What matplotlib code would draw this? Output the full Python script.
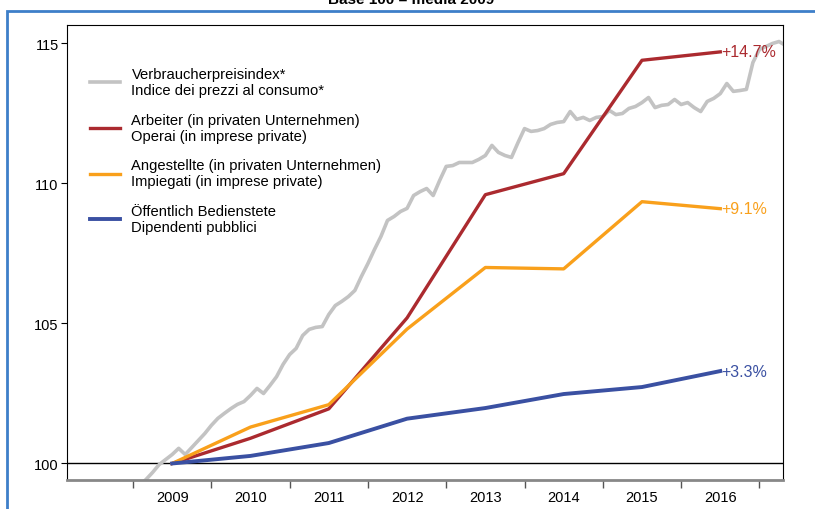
import numpy as np
import matplotlib
matplotlib.use("Agg")
from matplotlib import pyplot as plt
from matplotlib.patches import Rectangle

plt.rcParams['font.family'] = ['Liberation Sans', 'DejaVu Sans']

# annual wage indices (base 100 = 2009), placed at mid-year
years = [2009, 2010, 2011, 2012, 2013, 2014, 2015, 2016]
arbeiter = [100.0, 100.9, 101.95, 105.2, 109.6, 110.35, 114.4, 114.7]
angestellte = [100.0, 101.3, 102.1, 104.8, 107.0, 106.95, 109.35, 109.1]
oeffentlich = [100.0, 100.27, 100.73, 101.6, 101.98, 102.48, 102.73, 103.3]

# monthly consumer price index, Jan 2009 onwards
cpi = [99.0, 99.21, 99.43, 99.68, 99.96, 100.14, 100.32, 100.54, 100.32, 100.57,
       100.82, 101.07, 101.36, 101.61, 101.79, 101.96, 102.11, 102.21, 102.43, 102.68,
       102.5, 102.79, 103.1, 103.54, 103.89, 104.11, 104.57, 104.79, 104.86, 104.89,
       105.32, 105.64, 105.79, 105.96, 106.18, 106.68, 107.14, 107.64, 108.11, 108.68,
       108.82, 109.0, 109.11, 109.57, 109.71, 109.82, 109.57, 110.11, 110.61, 110.64,
       110.75, 110.75, 110.75, 110.86, 111.0, 111.36, 111.11, 111.0, 110.93, 111.46,
       111.96, 111.86, 111.89, 111.96, 112.11, 112.18, 112.21, 112.57, 112.29, 112.36,
       112.25, 112.36, 112.39, 112.61, 112.46, 112.5, 112.68, 112.75, 112.89, 113.07,
       112.71, 112.79, 112.82, 113.0, 112.82, 112.89, 112.71, 112.57, 112.93, 113.04,
       113.21, 113.57, 113.29, 113.32, 113.36, 114.32, 114.79, 114.89, 115.0, 115.07,
       114.93]

labels = ["Verbraucherpreisindex*\nIndice dei prezzi al consumo*",
          "Arbeiter (in privaten Unternehmen)\nOperai (in imprese private)",
          "Angestellte (in privaten Unternehmen)\nImpiegati (in imprese private)",
          "Öffentlich Bedienstete\nDipendenti pubblici"]
end_labels = ["+14.7%", "+9.1%", "+3.3%"]

c_grey = "#c3c3c3"
c_red = "#ab2a2f"
c_orange = "#f9a01b"
c_blue = "#3a50a2"

fig = plt.figure(figsize=(8.15, 5.1), dpi=100)
ax = fig.add_axes([67 / 815, 1 - 481 / 510, 716 / 815, 455 / 510])

x_cpi = 2009 + np.arange(len(cpi)) / 12
x_wage = np.array(years) + 0.5

ax.axhline(100, color="black", lw=1, zorder=1)
ax.plot(x_cpi, cpi, color=c_grey, lw=2.6, label=labels[0], zorder=2)
ax.plot(x_wage, arbeiter, color=c_red, lw=2.4, label=labels[1], zorder=3)
ax.plot(x_wage, angestellte, color=c_orange, lw=2.4, label=labels[2], zorder=3)
ax.plot(x_wage, oeffentlich, color=c_blue, lw=2.8, label=labels[3], zorder=4)

for series, txt, col in zip([arbeiter, angestellte, oeffentlich], end_labels,
                            [c_red, c_orange, c_blue]):
    ax.annotate(txt, (x_wage[-1], series[-1]), xytext=(1, 0), textcoords="offset points",
                ha="left", va="center", color=col, fontsize=11.5)

ax.set_xlim(2008.157, 2017.301)
ax.set_ylim(99.41, 115.66)
ax.set_yticks([100, 105, 110, 115])
ax.set_xticks(np.arange(2009, 2018))
ax.set_xticklabels([])
ax.set_xticks(x_wage, minor=True)
ax.set_xticklabels([str(y) for y in years], minor=True, fontsize=10.5)
ax.tick_params(axis="x", which="major", direction="out", length=6, color="#555555", width=1)
ax.tick_params(axis="x", which="minor", length=0, pad=7)
ax.tick_params(axis="y", direction="out", length=4, labelsize=10.5, width=0.8, pad=2)

for s in ["left", "top", "right"]:
    ax.spines[s].set_linewidth(0.8)
ax.spines["bottom"].set_color("#888888")
ax.spines["bottom"].set_linewidth(2)

leg = ax.legend(loc="upper left", bbox_to_anchor=(0.014, 0.937), frameon=False,
                fontsize=10.6, handlelength=2.05, handletextpad=0.75, labelspacing=1.05)

# outer panel border and heading that runs off the top
fig.add_artist(Rectangle((7 / 815, -0.2), 1.0, 1.2 - 12 / 510, transform=fig.transFigure,
                         fill=False, edgecolor="#3d7fc9", lw=2, clip_on=False))
fig.text(411 / 815, 1 - 4 / 510, "Base 100 = media 2009", ha="center", va="baseline",
         fontsize=11, fontweight="bold")

fig.savefig("out.png", dpi=100)
